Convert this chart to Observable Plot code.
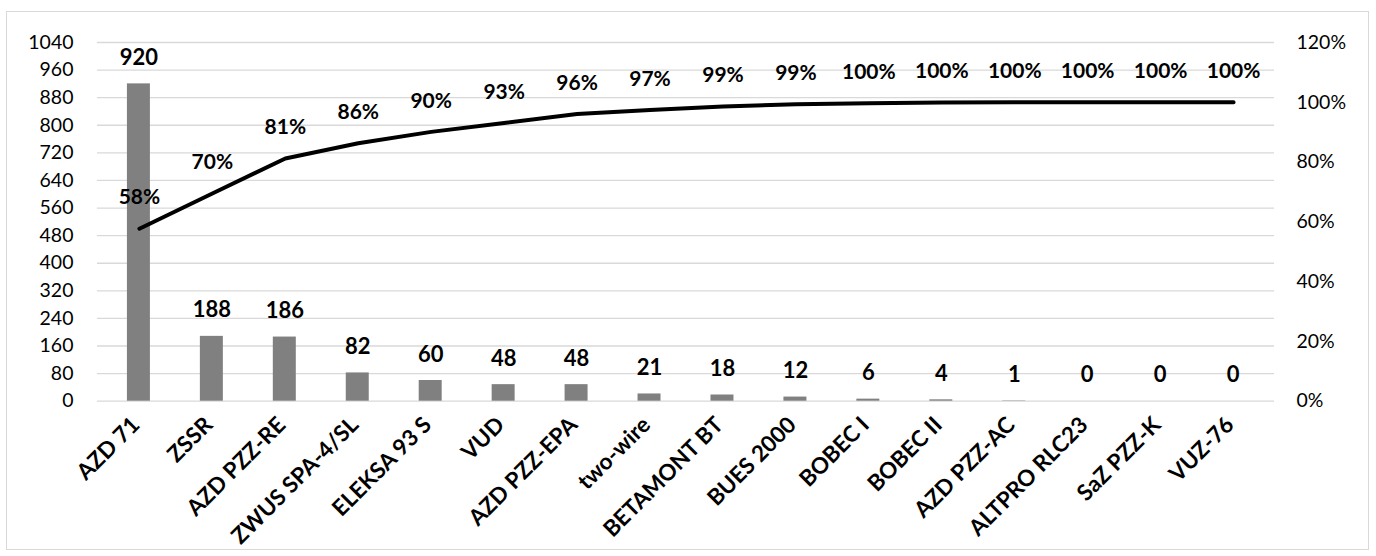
<!DOCTYPE html>
<html><head><meta charset="utf-8">
<script src="https://cdn.jsdelivr.net/npm/d3@7"></script>
<script src="https://cdn.jsdelivr.net/npm/@observablehq/plot@0.6"></script>
<style>
body{margin:0;background:#fff;font-family:Lato,sans-serif;}
#frame{position:absolute;left:6px;top:11px;width:1361px;height:537px;border:1px solid #d9d9d9;background:#fff;}
#frame svg{position:absolute;left:0;top:0;}
</style></head><body><div id="frame"></div>
<script>
const categories = ["AZD 71","ZSSR","AZD PZZ-RE","ZWUS SPA-4/SL","ELEKSA 93 S","VUD","AZD PZZ-EPA","two-wire","BETAMONT BT","BUES 2000","BOBEC I","BOBEC II","AZD PZZ-AC","ALTPRO RLC23","SaZ PZZ-K","VUZ-76"];
const counts = [920,188,186,82,60,48,48,21,18,12,6,4,1,0,0,0];
const cumulativePct = [0.577,0.695,0.812,0.863,0.901,0.931,0.961,0.974,0.986,0.993,0.997,0.999,1,1,1,1];
const pctLabels = ["58%","70%","81%","86%","90%","93%","96%","97%","99%","99%","100%","100%","100%","100%","100%","100%"];
const valueTicks = [0,80,160,240,320,400,480,560,640,720,800,880,960,1040];
const pctTicks = [0,0.2,0.4,0.6,0.8,1.0,1.2];

const rows = categories.map((c,i)=>({cat:c, n:counts[i], pct:cumulativePct[i], pl:pctLabels[i]}));
const W=1362, H=538, mt=30, mb=149, ml=90, mr=94;
const font = "Lato, sans-serif";
const xOpt = {domain:categories, paddingInner:0.69, paddingOuter:0.345, label:null};

const p1 = Plot.plot({
  width:W, height:H, marginTop:mt, marginBottom:mb, marginLeft:ml, marginRight:mr,
  style:{fontFamily:font, background:"transparent", overflow:"visible", color:"#000"},
  x:xOpt,
  y:{domain:[0,1040], label:null},
  marks:[
    Plot.gridY(valueTicks,{stroke:"#d9d9d9", strokeOpacity:1, strokeWidth:1.3}),
    Plot.axisY({ticks:valueTicks, tickFormat:d=>String(d), tickSize:0, tickPadding:24, fontSize:19.5, label:null, fill:"#000"}),
    Plot.axisX({tickRotate:-45, tickSize:0, tickPadding:20, dx:-3, fontSize:22.5, fontWeight:"bold", label:null, fill:"#000"}),
    Plot.barY(rows,{x:"cat", y:"n", fill:"#808080"}),
    Plot.text(rows,{x:"cat", y:"n", text:d=>String(d.n), dy:-26, fontSize:22, fontWeight:"bold", fill:"#000"})
  ]
});

const p2 = Plot.plot({
  width:W, height:H, marginTop:mt, marginBottom:mb, marginLeft:ml, marginRight:mr,
  style:{fontFamily:font, background:"transparent", overflow:"visible", color:"#000"},
  x:{...xOpt, axis:null},
  y:{domain:[0,1.2], label:null},
  marks:[
    Plot.axisY({anchor:"right", ticks:pctTicks, tickFormat:d3.format(".0%"), tickSize:0, tickPadding:22, fontSize:19.5, label:null, fill:"#000"}),
    Plot.lineY(rows,{x:"cat", y:"pct", stroke:"#000", strokeWidth:4, strokeLinecap:"round", strokeLinejoin:"round"}),
    Plot.text(rows,{x:"cat", y:"pct", text:"pl", dy:-31, fontSize:21, fontWeight:"bold", fill:"#000"})
  ]
});

const frame = document.getElementById("frame");
frame.appendChild(p1);
frame.appendChild(p2);
</script>
</body></html>
